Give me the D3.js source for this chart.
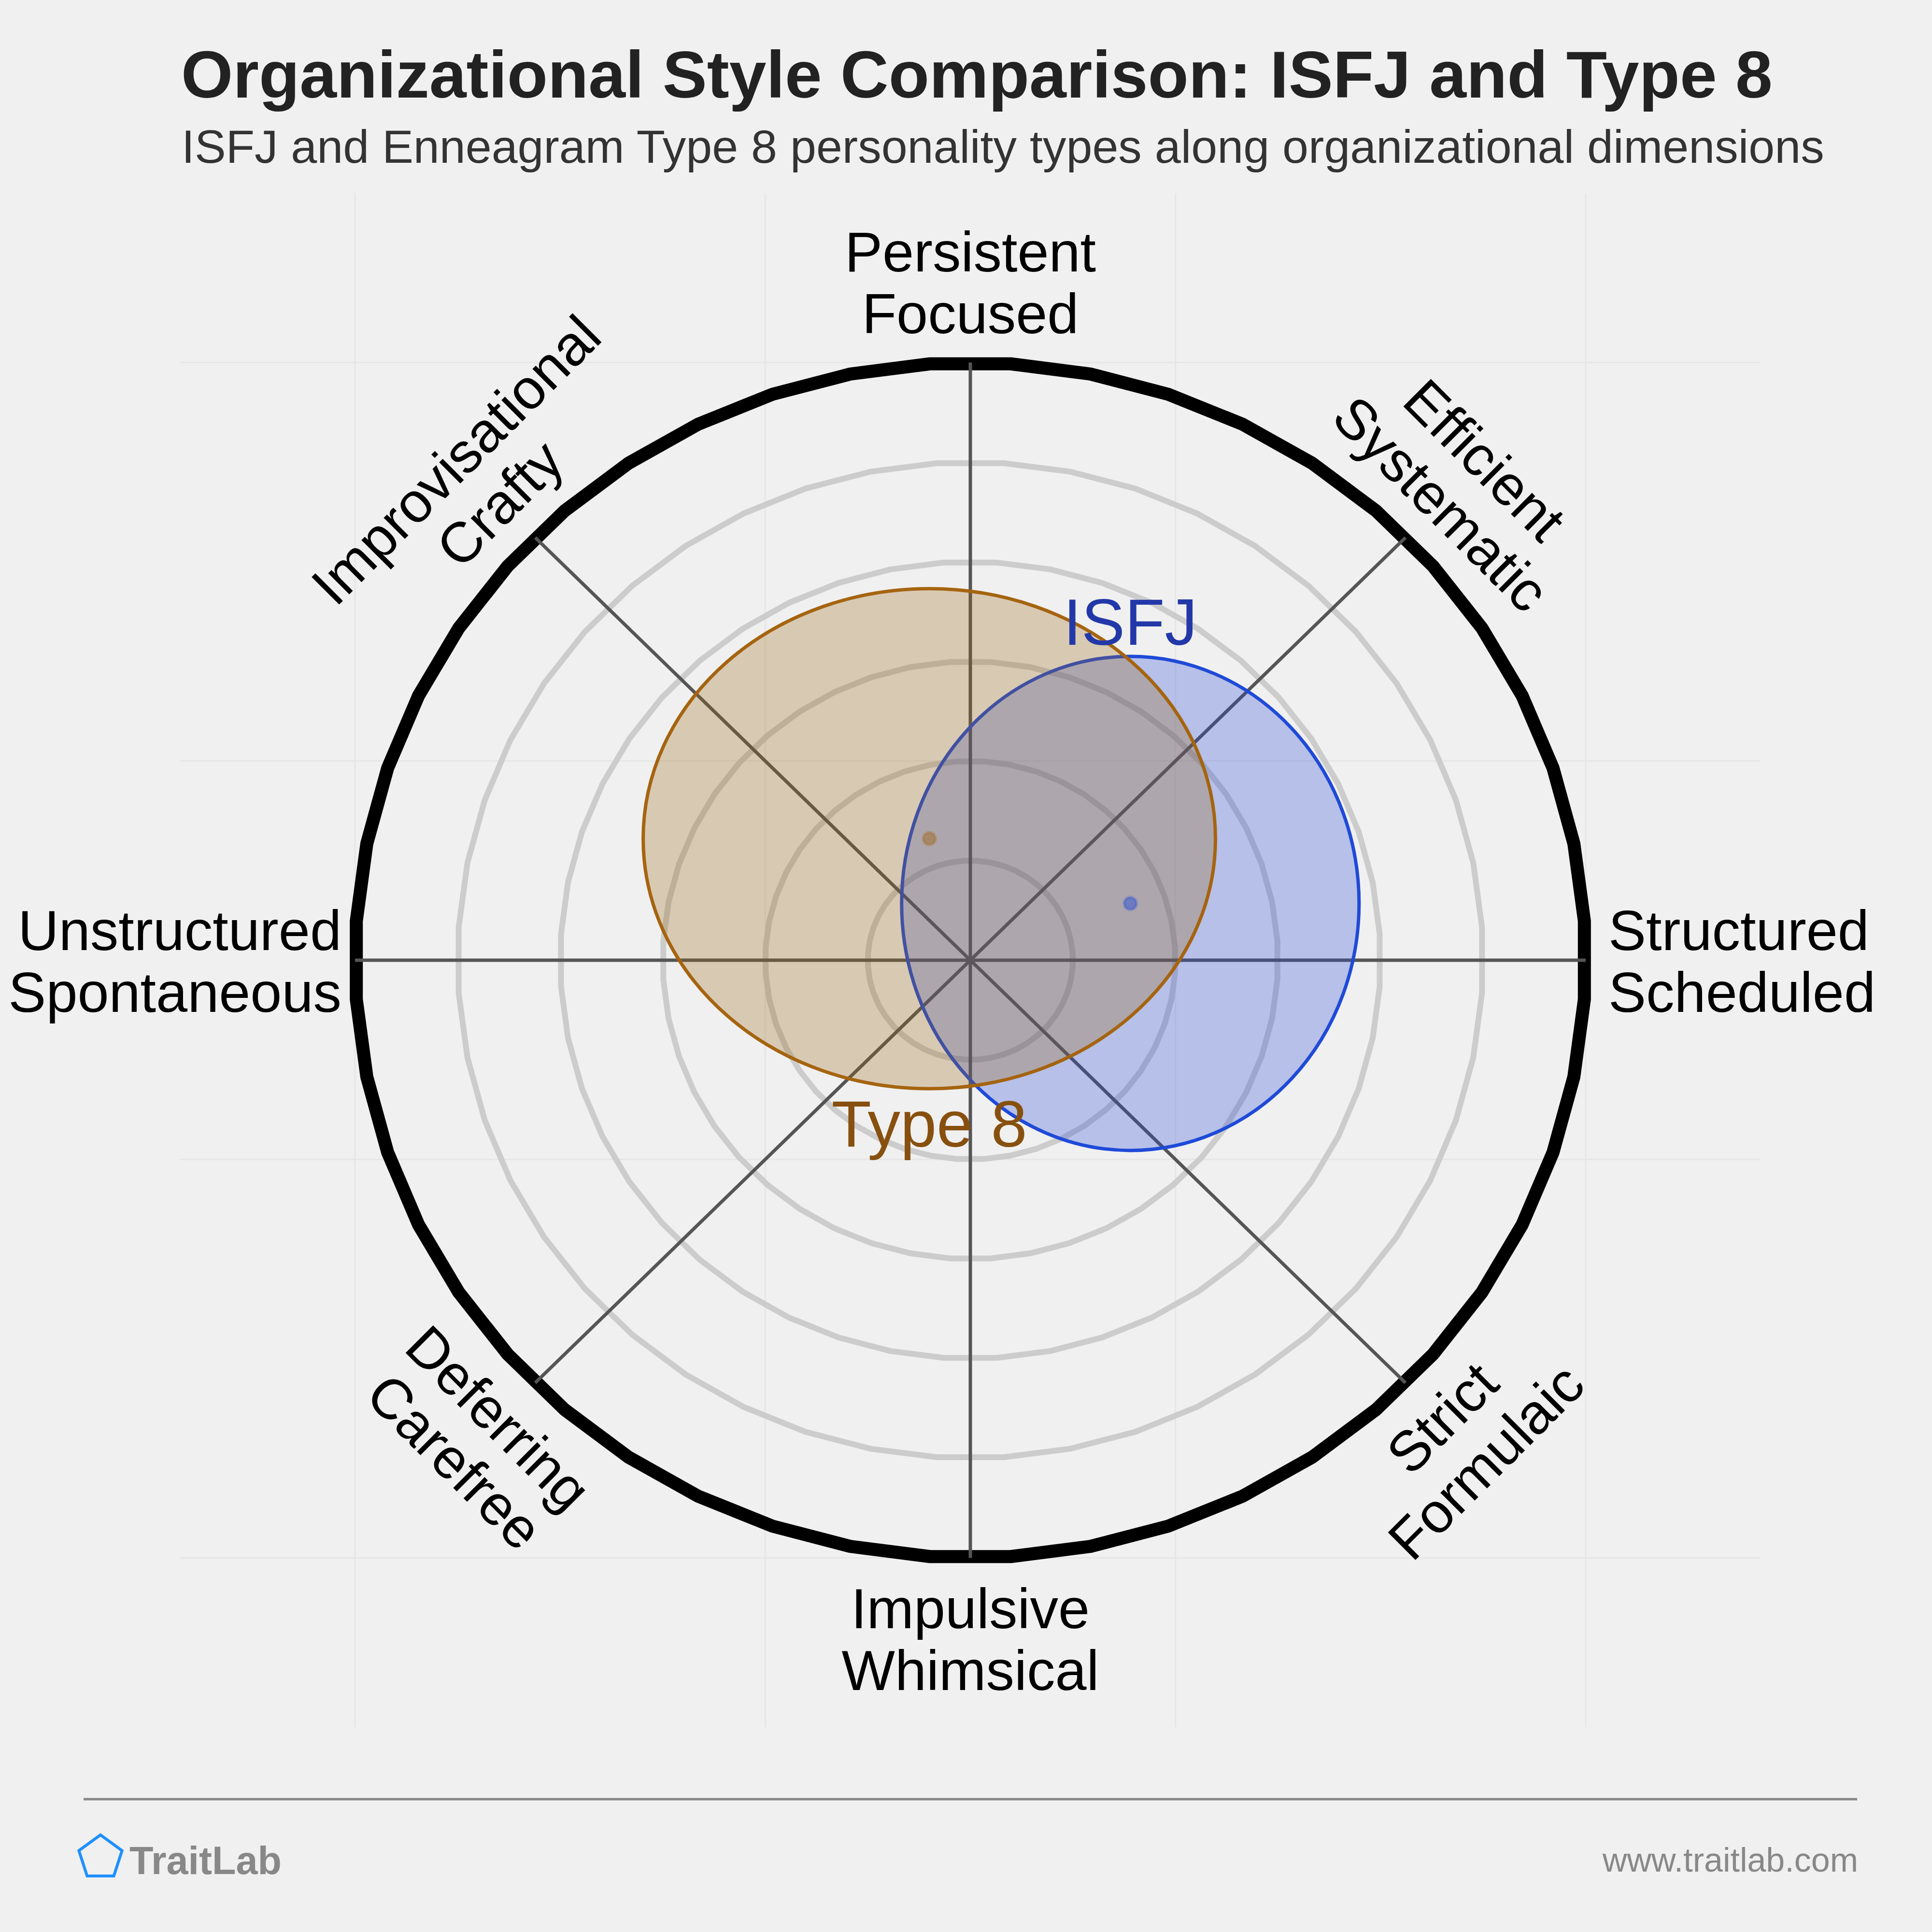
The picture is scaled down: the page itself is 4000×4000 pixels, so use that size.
<!DOCTYPE html>
<html>
<head>
<meta charset="utf-8">
<script src="https://cdn.jsdelivr.net/npm/d3@7"></script>
<style>
  body { margin: 0; background: #f0f0f0; }
  text { font-family: "Liberation Sans", Arial, sans-serif; }
</style>
</head>
<body>
<div id="vis"></div>
<script>
var W = 4000, H = 4000;

// axis poles, clockwise from the top
var poleTop = ["Persistent", "Efficient", "Structured", "Strict", "Impulsive", "Deferring", "Unstructured", "Improvisational"];
var poleBottom = ["Focused", "Systematic", "Scheduled", "Formulaic", "Whimsical", "Carefree", "Spontaneous", "Crafty"];

// the two personality types (centre and spread in chart units)
var types = ["ISFJ", "Type 8"];
var centerX = [1.56, -0.40];
var centerY = [0.57, 1.22];
var spreadX = [2.23, 2.79];
var spreadY = [2.48, 2.51];
var labelSide = ["above", "below"];

var ringLevels = [1, 2, 3, 4, 5];
var outerLevel = 6;
var gridTicks = [-6, -2, 2, 6];

var fills = ["#1f46d4", "#9c6316"];
var strokes = ["#1f4ad8", "#a5640f"];
var textColors = ["#2338a8", "#87500f"];

var svg = d3.select("div#vis").append("svg")
  .attr("width", W)
  .attr("height", H);

svg.append("rect").attr("width", W).attr("height", H).attr("fill", "#f0f0f0");

var x = d3.scaleLinear().domain([-7.7, 7.7]).range([374, 3644]);
var y = d3.scaleLinear().domain([-7.7, 7.7]).range([3576, 400]);

// faint background grid
svg.selectAll("line.gx").data(gridTicks).enter().append("line")
  .attr("class", "gx")
  .attr("x1", function(d) { return x(d); })
  .attr("x2", function(d) { return x(d); })
  .attr("y1", y(7.7)).attr("y2", y(-7.7))
  .attr("stroke", "#e6e6e6").attr("stroke-width", 3);

svg.selectAll("line.gy").data(gridTicks).enter().append("line")
  .attr("class", "gy")
  .attr("y1", function(d) { return y(d); })
  .attr("y2", function(d) { return y(d); })
  .attr("x1", x(-7.7)).attr("x2", x(7.7))
  .attr("stroke", "#e6e6e6").attr("stroke-width", 3);

// rings as polygons
var nSides = 48;
function ringPath(r) {
  var pts = d3.range(nSides).map(function(k) {
    var a = (k + 0.5) * 2 * Math.PI / nSides;
    return [x(r * Math.sin(a)), y(r * Math.cos(a))];
  });
  return d3.line().curve(d3.curveLinearClosed)(pts);
}

svg.selectAll("path.ring").data(ringLevels).enter().append("path")
  .attr("class", "ring")
  .attr("d", ringPath)
  .attr("fill", "none")
  .attr("stroke", "#cccccc")
  .attr("stroke-width", 12);

svg.append("path")
  .attr("d", ringPath(outerLevel))
  .attr("fill", "none")
  .attr("stroke", "#000")
  .attr("stroke-width", 27)
  .attr("stroke-linejoin", "round");

// spokes
var angles = poleTop.map(function(d, i) { return i * Math.PI / 4; });

svg.selectAll("line.spoke").data(angles).enter().append("line")
  .attr("class", "spoke")
  .attr("x1", x(0)).attr("y1", y(0))
  .attr("x2", function(a) { return x(outerLevel * Math.sin(a)); })
  .attr("y2", function(a) { return y(outerLevel * Math.cos(a)); })
  .attr("stroke", "#555").attr("stroke-width", 7);

// type ellipses
var idx = [0, 1];

svg.selectAll("ellipse.area").data(idx).enter().append("ellipse")
  .attr("class", "area")
  .attr("cx", function(i) { return x(centerX[i]); })
  .attr("cy", function(i) { return y(centerY[i]); })
  .attr("rx", function(i) { return x(centerX[i] + spreadX[i]) - x(centerX[i]); })
  .attr("ry", function(i) { return y(centerY[i]) - y(centerY[i] + spreadY[i]); })
  .attr("fill", function(i) { return fills[i]; })
  .attr("fill-opacity", 0.28)
  .attr("stroke", function(i) { return strokes[i]; })
  .attr("stroke-width", 7);

svg.selectAll("circle.dot").data(idx).enter().append("circle")
  .attr("class", "dot")
  .attr("cx", function(i) { return x(centerX[i]); })
  .attr("cy", function(i) { return y(centerY[i]); })
  .attr("r", 13)
  .attr("fill", function(i) { return fills[i]; })
  .attr("fill-opacity", 0.45)
  .attr("stroke", function(i) { return strokes[i]; })
  .attr("stroke-opacity", 0.25)
  .attr("stroke-width", 6);

svg.selectAll("text.tname").data(idx).enter().append("text")
  .attr("class", "tname")
  .attr("x", function(i) { return x(centerX[i]); })
  .attr("y", function(i) {
    return labelSide[i] === "above"
      ? y(centerY[i] + spreadY[i]) - 24
      : y(centerY[i] - spreadY[i]) + 120;
  })
  .attr("text-anchor", "middle")
  .attr("font-size", 135)
  .attr("fill", function(i) { return textColors[i]; })
  .text(function(i) { return types[i]; });

// axis labels
var lh = 128;
var labels = svg.selectAll("g.pole").data(angles).enter().append("g")
  .attr("class", "pole")
  .attr("transform", function(a, i) {
    if (i === 0) return "translate(" + x(0) + "," + (y(outerLevel) - 61 - lh) + ")";
    if (i === 4) return "translate(" + x(0) + "," + (y(-outerLevel) + 146) + ")";
    if (i === 2) return "translate(" + (x(outerLevel) + 47) + "," + (y(0) - 21) + ")";
    if (i === 6) return "translate(" + (x(-outerLevel) - 28) + "," + (y(0) - 21) + ")";
    var r = 6.8;
    var px = x(r * Math.sin(a)), py = y(r * Math.cos(a));
    var rot = (i === 1 || i === 5) ? 45 : -45;
    return "translate(" + px + "," + py + ") rotate(" + rot + ") translate(0,-21.5)";
  });

labels.append("text")
  .attr("text-anchor", function(a, i) { return i === 2 ? "start" : (i === 6 ? "end" : "middle"); })
  .attr("font-size", 117)
  .attr("fill", "#000")
  .each(function(a, i) {
    var t = d3.select(this);
    t.append("tspan").attr("x", 0).attr("y", 0).text(poleTop[i]);
    t.append("tspan").attr("x", 0).attr("y", lh).text(poleBottom[i]);
  });

// titles
svg.append("text")
  .attr("x", 375).attr("y", 202)
  .attr("font-size", 138).attr("font-weight", "bold")
  .attr("fill", "#222")
  .text("Organizational Style Comparison: ISFJ and Type 8");

svg.append("text")
  .attr("x", 376).attr("y", 337)
  .attr("font-size", 97)
  .attr("fill", "#333")
  .text("ISFJ and Enneagram Type 8 personality types along organizational dimensions");

// footer
svg.append("line")
  .attr("x1", 173).attr("x2", 3845)
  .attr("y1", 3725).attr("y2", 3725)
  .attr("stroke", "#888").attr("stroke-width", 5);

var pent = d3.range(5).map(function(k) {
  var a = -Math.PI / 2 + k * 2 * Math.PI / 5;
  return [208 + 47 * Math.cos(a), 3846 + 47 * Math.sin(a)];
});
svg.append("path")
  .attr("d", d3.line().curve(d3.curveLinearClosed)(pent))
  .attr("fill", "none")
  .attr("stroke", "#1e90ff")
  .attr("stroke-width", 6);

svg.append("text")
  .attr("x", 268).attr("y", 3880)
  .attr("font-size", 81).attr("font-weight", "bold")
  .attr("fill", "#888")
  .text("TraitLab");

svg.append("text")
  .attr("x", 3847).attr("y", 3875)
  .attr("text-anchor", "end")
  .attr("font-size", 70)
  .attr("fill", "#888")
  .text("www.traitlab.com");
</script>
</body>
</html>
